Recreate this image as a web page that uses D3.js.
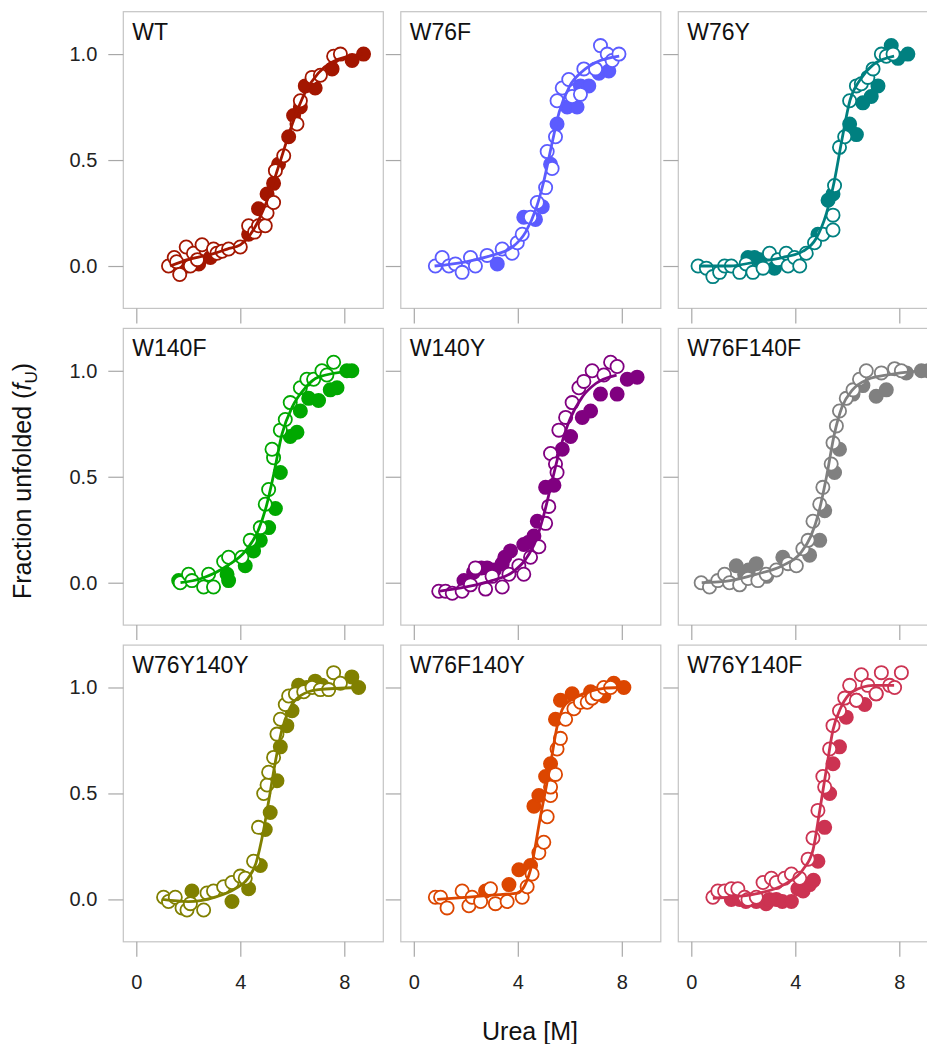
<!DOCTYPE html>
<html>
<head>
<meta charset="utf-8">
<script src="https://cdn.jsdelivr.net/npm/d3@7"></script>
<style>
  body { margin: 0; background: #fff; }
  svg { display: block; font-family: "Liberation Sans", Arial, sans-serif; }
  .frame { fill: #fff; stroke: #c4c4c4; stroke-width: 1.2; }
  .tick line { stroke: #a8a8a8; stroke-width: 1.2; }
  .tick text { fill: #222; font-size: 20px; }
</style>
</head>
<body>
<div id="chart"></div>
<script>
// panel names and colours, in reading order
const names = ["WT", "W76F", "W76Y", "W140F", "W140Y", "W76F140F", "W76Y140Y", "W76F140Y", "W76Y140F"];
const colors = ["#a31600", "#5c5cff", "#008080", "#00a800", "#800080", "#808080", "#808000", "#dc4600", "#cc3352"];

const xTicks = [0, 4, 8];
const yTicks = [0, 0.5, 1];

// [urea M, fraction unfolded]
const wtOpen = [[1.24,0.00],[1.46,0.04],[1.55,0.02],[1.67,-0.04],[1.92,0.09],[2.08,0.00],[2.20,0.06],[2.35,0.03],[2.53,0.10],[2.97,0.08],[3.10,0.06],[3.30,0.07],[3.55,0.08],[4.00,0.09],[4.32,0.19],[4.55,0.16],[4.70,0.19],[4.96,0.19],[5.03,0.25],[5.28,0.30],[5.35,0.45],[5.67,0.52],[6.18,0.67],[6.31,0.78],[6.76,0.89],[7.08,0.90],[7.59,0.99],[7.85,1.00]];
const wtFilled = [[1.95,0.00],[2.40,0.01],[2.85,0.04],[4.32,0.15],[4.70,0.27],[5.03,0.34],[5.28,0.39],[5.47,0.48],[5.86,0.61],[6.05,0.71],[6.31,0.75],[6.50,0.85],[6.88,0.84],[7.53,0.93],[8.30,0.97],[8.74,1.00]];
const wtFit = [[1.3,0.00],[2.0,0.03],[3.0,0.06],[3.5,0.08],[4.0,0.10],[4.5,0.17],[5.0,0.30],[5.5,0.48],[6.0,0.67],[6.5,0.82],[7.0,0.91],[7.5,0.96],[8.7,1.00]];

const w76fOpen = [[0.83,0.00],[1.09,0.04],[1.35,0.00],[1.60,0.01],[1.86,-0.03],[2.18,0.04],[2.37,0.00],[2.82,0.05],[3.40,0.08],[3.78,0.06],[3.98,0.11],[4.17,0.15],[4.49,0.23],[4.75,0.30],[5.07,0.37],[5.13,0.54],[5.32,0.46],[5.45,0.61],[5.51,0.78],[5.71,0.84],[5.96,0.88],[6.09,0.80],[6.41,0.81],[6.54,0.93],[6.99,0.93],[7.18,1.04],[7.44,1.00],[7.63,0.97],[7.89,1.00]];
const w76fFilled = [[3.21,0.01],[4.23,0.23],[4.68,0.22],[4.94,0.28],[5.26,0.48],[5.51,0.67],[5.90,0.75],[6.28,0.75],[6.41,0.85],[6.73,0.85],[7.12,0.91],[7.50,0.92]];
const w76fFit = [[0.8,0.00],[2.0,0.02],[3.0,0.05],[3.8,0.09],[4.3,0.16],[4.7,0.27],[5.0,0.40],[5.3,0.57],[5.6,0.73],[6.0,0.85],[6.5,0.92],[7.0,0.96],[7.9,0.99]];

const w76yOpen = [[0.26,0.00],[0.58,-0.01],[0.83,-0.05],[1.09,-0.03],[1.28,0.00],[1.54,0.00],[1.86,-0.03],[2.11,0.01],[2.37,-0.03],[2.76,-0.01],[3.01,0.06],[3.33,0.03],[3.65,0.06],[3.72,0.00],[3.97,0.04],[4.17,0.00],[4.42,0.06],[4.74,0.11],[5.06,0.15],[5.45,0.17],[5.45,0.24],[5.51,0.38],[5.70,0.56],[5.90,0.61],[6.09,0.78],[6.35,0.85],[6.54,0.86],[6.79,0.89],[6.99,0.93],[7.31,1.00],[7.50,0.99],[7.76,1.00]];
const w76yFilled = [[2.18,0.04],[2.43,0.04],[2.63,0.03],[3.20,-0.01],[4.87,0.15],[5.26,0.31],[5.45,0.34],[6.09,0.67],[6.35,0.62],[6.60,0.77],[6.92,0.80],[7.18,0.85],[7.69,1.04],[7.95,0.98],[8.33,1.00]];
const w76yFit = [[0.3,0.00],[1.5,0.00],[2.5,0.02],[3.5,0.04],[4.3,0.07],[4.8,0.13],[5.2,0.25],[5.5,0.40],[5.8,0.60],[6.1,0.78],[6.5,0.88],[7.0,0.95],[7.8,0.99]];

const w140fOpen = [[1.69,0.00],[2.01,0.04],[2.14,0.01],[2.59,-0.02],[2.78,0.04],[2.97,-0.02],[3.36,0.10],[3.55,0.12],[4.06,0.12],[4.38,0.20],[4.77,0.26],[4.96,0.37],[5.09,0.44],[5.28,0.59],[5.22,0.63],[5.54,0.72],[5.73,0.77],[5.92,0.85],[6.31,0.92],[6.56,0.96],[6.82,0.96],[7.14,1.00],[7.33,0.98],[7.59,1.04]];
const w140fFilled = [[1.63,0.01],[3.49,0.04],[3.55,0.01],[4.19,0.08],[4.51,0.15],[4.77,0.20],[5.09,0.26],[5.35,0.35],[5.54,0.52],[5.92,0.69],[6.18,0.71],[6.31,0.81],[6.63,0.87],[7.01,0.86],[7.46,0.91],[7.72,0.92],[8.10,1.00],[8.29,1.00]];
const w140fFit = [[1.7,0.00],[2.5,0.02],[3.5,0.08],[4.2,0.15],[4.7,0.25],[5.0,0.36],[5.3,0.52],[5.6,0.70],[6.0,0.83],[6.5,0.92],[7.0,0.97],[8.3,1.00]];

const w140yOpen = [[0.96,-0.04],[1.22,-0.04],[1.48,-0.05],[1.86,-0.04],[2.18,-0.01],[2.37,0.07],[2.76,-0.03],[3.01,0.03],[3.40,-0.02],[3.66,0.04],[4.04,0.08],[4.23,0.04],[4.49,0.12],[4.81,0.17],[5.07,0.28],[5.19,0.36],[5.26,0.61],[5.45,0.56],[5.51,0.52],[5.58,0.72],[5.84,0.78],[6.09,0.85],[6.35,0.92],[6.54,0.95],[6.86,1.00],[7.31,0.98],[7.57,1.04],[7.82,1.02]];
const w140yFilled = [[1.93,0.01],[2.30,0.05],[2.60,0.07],[2.82,0.07],[3.10,0.06],[3.40,0.09],[3.50,0.12],[3.72,0.15],[4.23,0.18],[4.40,0.19],[4.62,0.22],[4.75,0.29],[5.07,0.45],[5.39,0.46],[5.71,0.63],[6.03,0.69],[6.48,0.78],[6.80,0.81],[7.18,0.89],[7.82,0.89],[8.21,0.96],[8.59,0.97]];
const w140yFit = [[1.0,-0.04],[2.0,-0.02],[3.0,0.01],[3.8,0.05],[4.3,0.11],[4.7,0.20],[5.0,0.32],[5.3,0.47],[5.6,0.62],[6.0,0.77],[6.5,0.88],[7.0,0.94],[7.8,0.98]];

const w76f140fOpen = [[0.38,0.00],[0.70,-0.02],[1.02,0.01],[1.28,0.04],[1.47,0.00],[1.86,-0.01],[2.18,0.02],[2.56,0.01],[2.88,0.04],[3.27,0.06],[3.72,0.09],[4.04,0.08],[4.29,0.16],[4.49,0.20],[4.68,0.29],[4.94,0.37],[5.06,0.45],[5.38,0.56],[5.45,0.66],[5.58,0.74],[5.70,0.81],[5.96,0.87],[6.22,0.91],[6.47,0.96],[6.73,1.00],[7.31,0.99],[7.82,1.01],[8.08,1.00]];
const w76f140fFilled = [[1.73,0.08],[2.05,0.04],[2.20,0.06],[2.50,0.09],[2.90,0.03],[3.52,0.12],[4.55,0.13],[4.94,0.20],[5.13,0.34],[5.51,0.52],[5.70,0.63],[6.22,0.89],[6.60,0.93],[7.11,0.88],[7.50,0.91],[8.27,0.99],[8.85,1.00],[9.10,1.00],[9.40,0.99]];
const w76f140fFit = [[0.4,0.00],[1.5,0.01],[2.5,0.04],[3.5,0.08],[4.2,0.14],[4.6,0.22],[4.9,0.33],[5.2,0.50],[5.5,0.70],[5.8,0.83],[6.2,0.91],[6.8,0.96],[7.5,0.98],[8.8,1.00]];

const w76y140yOpen = [[1.05,0.01],[1.24,-0.01],[1.50,0.01],[1.76,-0.04],[1.95,-0.05],[2.08,-0.02],[2.59,-0.05],[2.72,0.03],[2.97,0.04],[3.36,0.06],[3.68,0.08],[4.00,0.11],[4.19,0.10],[4.51,0.18],[4.70,0.34],[4.90,0.50],[5.03,0.54],[5.09,0.60],[5.28,0.67],[5.41,0.78],[5.54,0.85],[5.73,0.92],[5.86,0.96],[6.12,0.97],[6.44,0.98],[6.76,1.00],[7.08,0.99],[7.40,0.99],[7.59,1.07],[7.85,1.02]];
const w76y140yFilled = [[2.14,0.04],[3.68,-0.01],[4.32,0.05],[4.77,0.16],[4.96,0.33],[5.15,0.41],[5.41,0.56],[5.54,0.72],[5.79,0.82],[5.99,0.89],[6.24,1.01],[6.56,1.00],[6.88,1.03],[7.14,1.01],[8.29,1.05],[8.55,1.00]];
const w76y140yFit = [[1.0,0.00],[2.0,-0.01],[3.0,0.01],[3.8,0.05],[4.3,0.10],[4.6,0.17],[4.9,0.33],[5.1,0.47],[5.35,0.65],[5.6,0.80],[5.9,0.90],[6.3,0.96],[7.0,0.99],[8.5,1.00]];

const w76f140yOpen = [[0.83,0.01],[1.03,0.01],[1.28,-0.04],[1.86,0.04],[2.12,-0.03],[2.24,0.01],[2.57,-0.01],[2.95,0.05],[3.14,-0.02],[3.59,-0.01],[4.17,0.01],[4.36,0.06],[4.55,0.12],[4.81,0.22],[5.00,0.27],[5.13,0.39],[5.26,0.49],[5.26,0.53],[5.45,0.59],[5.51,0.71],[5.64,0.76],[5.84,0.85],[6.16,0.90],[6.41,0.93],[6.67,0.93],[6.86,0.95],[7.05,0.97],[7.31,1.00],[7.57,1.00]];
const w76f140yFilled = [[2.76,0.04],[3.66,0.07],[4.04,0.14],[4.49,0.16],[4.62,0.44],[4.81,0.49],[5.07,0.58],[5.26,0.64],[5.45,0.85],[5.64,0.94],[6.09,0.97],[6.80,0.98],[7.31,0.96],[7.69,1.02],[8.08,1.00]];
const w76f140yFit = [[0.9,0.00],[2.0,0.01],[3.0,0.02],[3.98,0.03],[4.49,0.14],[4.87,0.39],[5.26,0.64],[5.51,0.815],[5.77,0.91],[6.28,0.956],[7.31,0.996],[7.9,1.00]];

const w76y140fOpen = [[0.83,0.01],[1.02,0.04],[1.28,0.04],[1.54,0.05],[1.79,0.05],[2.05,0.01],[2.18,0.00],[2.50,0.01],[2.76,0.08],[3.08,0.10],[3.27,0.08],[3.59,0.10],[3.85,0.12],[4.17,0.10],[4.49,0.19],[4.68,0.29],[4.87,0.42],[5.06,0.58],[5.13,0.53],[5.32,0.71],[5.45,0.82],[5.70,0.89],[5.90,0.95],[6.09,1.01],[6.35,0.94],[6.54,1.06],[6.79,1.01],[7.11,0.97],[7.31,1.07],[7.63,1.01],[7.82,1.00],[8.08,1.07]];
const w76y140fFilled = [[1.54,0.00],[1.86,0.00],[2.10,-0.01],[2.50,-0.01],[2.88,-0.02],[3.00,0.00],[3.27,0.00],[3.50,-0.01],[3.85,-0.01],[4.10,0.05],[4.30,0.04],[4.55,0.07],[4.70,0.09],[4.87,0.18],[5.13,0.34],[5.32,0.50],[5.45,0.64],[5.70,0.72],[5.96,0.86],[6.35,0.94],[6.67,0.92],[7.11,0.97]];
const w76y140fFit = [[0.83,0.005],[2.63,0.03],[3.65,0.076],[4.29,0.14],[4.68,0.233],[4.94,0.42],[5.19,0.61],[5.45,0.80],[5.77,0.91],[6.2,0.98],[7.0,1.01],[7.8,1.01]];

const opens = [wtOpen, w76fOpen, w76yOpen, w140fOpen, w140yOpen, w76f140fOpen, w76y140yOpen, w76f140yOpen, w76y140fOpen];
const filleds = [wtFilled, w76fFilled, w76yFilled, w140fFilled, w140yFilled, w76f140fFilled, w76y140yFilled, w76f140yFilled, w76y140fFilled];
const fits = [wtFit, w76fFit, w76yFit, w140fFit, w140yFit, w76f140fFit, w76y140yFit, w76f140yFit, w76y140fFit];

const width = 927, height = 1044;
const panelW = 260, panelH = 296.7;
const colStep = 277.5, rowStep = 316.7;
const left0 = 123.3, top0 = 11.7;

const svg = d3.select('#chart')
    .append('svg')
    .attr('width', width)
    .attr('height', height);

const x = d3.scaleLinear().domain([-0.5, 9.5]).range([0, panelW]);
const y = d3.scaleLinear().domain([-0.2, 1.2]).range([panelH, 0]);

const line = d3.line()
    .x(d => x(d[0]))
    .y(d => y(d[1]))
    .curve(d3.curveMonotoneX);

names.forEach((name, i) => {
    const col = i % 3, row = Math.floor(i / 3);
    const g = svg.append('g')
        .attr('transform', `translate(${left0 + col * colStep},${top0 + row * rowStep})`);

    g.append('rect')
        .attr('class', 'frame')
        .attr('width', panelW)
        .attr('height', panelH);

    // ticks outside the box, labels only on the outer panels
    const ax = g.append('g')
        .attr('transform', `translate(0,${panelH})`)
        .call(d3.axisBottom(x).tickValues(xTicks).tickSize(15).tickPadding(18)
            .tickFormat(row === 2 ? d3.format('d') : ''));
    ax.select('.domain').remove();

    const ay = g.append('g')
        .call(d3.axisLeft(y).tickValues(yTicks).tickSize(15).tickPadding(11)
            .tickFormat(col === 0 ? d3.format('.1f') : ''));
    ay.select('.domain').remove();

    const color = colors[i];

    g.selectAll('circle.filled')
        .data(filleds[i])
        .join('circle')
        .attr('class', 'filled')
        .attr('cx', d => x(d[0]))
        .attr('cy', d => y(d[1]))
        .attr('r', 6.6)
        .style('fill', color)
        .style('stroke', color)
        .style('stroke-width', 1.8);

    g.selectAll('circle.open')
        .data(opens[i])
        .join('circle')
        .attr('class', 'open')
        .attr('cx', d => x(d[0]))
        .attr('cy', d => y(d[1]))
        .attr('r', 6.6)
        .style('fill', '#fff')
        .style('stroke', color)
        .style('stroke-width', 1.8);

    g.append('path')
        .datum(fits[i])
        .attr('d', line)
        .style('fill', 'none')
        .style('stroke', color)
        .style('stroke-width', 2.8);

    g.append('text')
        .attr('x', 9)
        .attr('y', 28)
        .style('font-size', '23px')
        .style('fill', '#111')
        .text(name);
});

// axis titles
svg.append('text')
    .attr('x', 530)
    .attr('y', 1040)
    .attr('text-anchor', 'middle')
    .style('font-size', '25px')
    .style('fill', '#111')
    .text('Urea [M]');

const yt = svg.append('text')
    .attr('transform', 'translate(31,481) rotate(-90)')
    .attr('text-anchor', 'middle')
    .style('font-size', '25px')
    .style('fill', '#111');
yt.append('tspan').text('Fraction unfolded (');
yt.append('tspan').style('font-style', 'italic').text('f');
yt.append('tspan').attr('dy', 6).style('font-size', '17px').text('U');
yt.append('tspan').attr('dy', -6).text(')');
</script>
</body>
</html>
